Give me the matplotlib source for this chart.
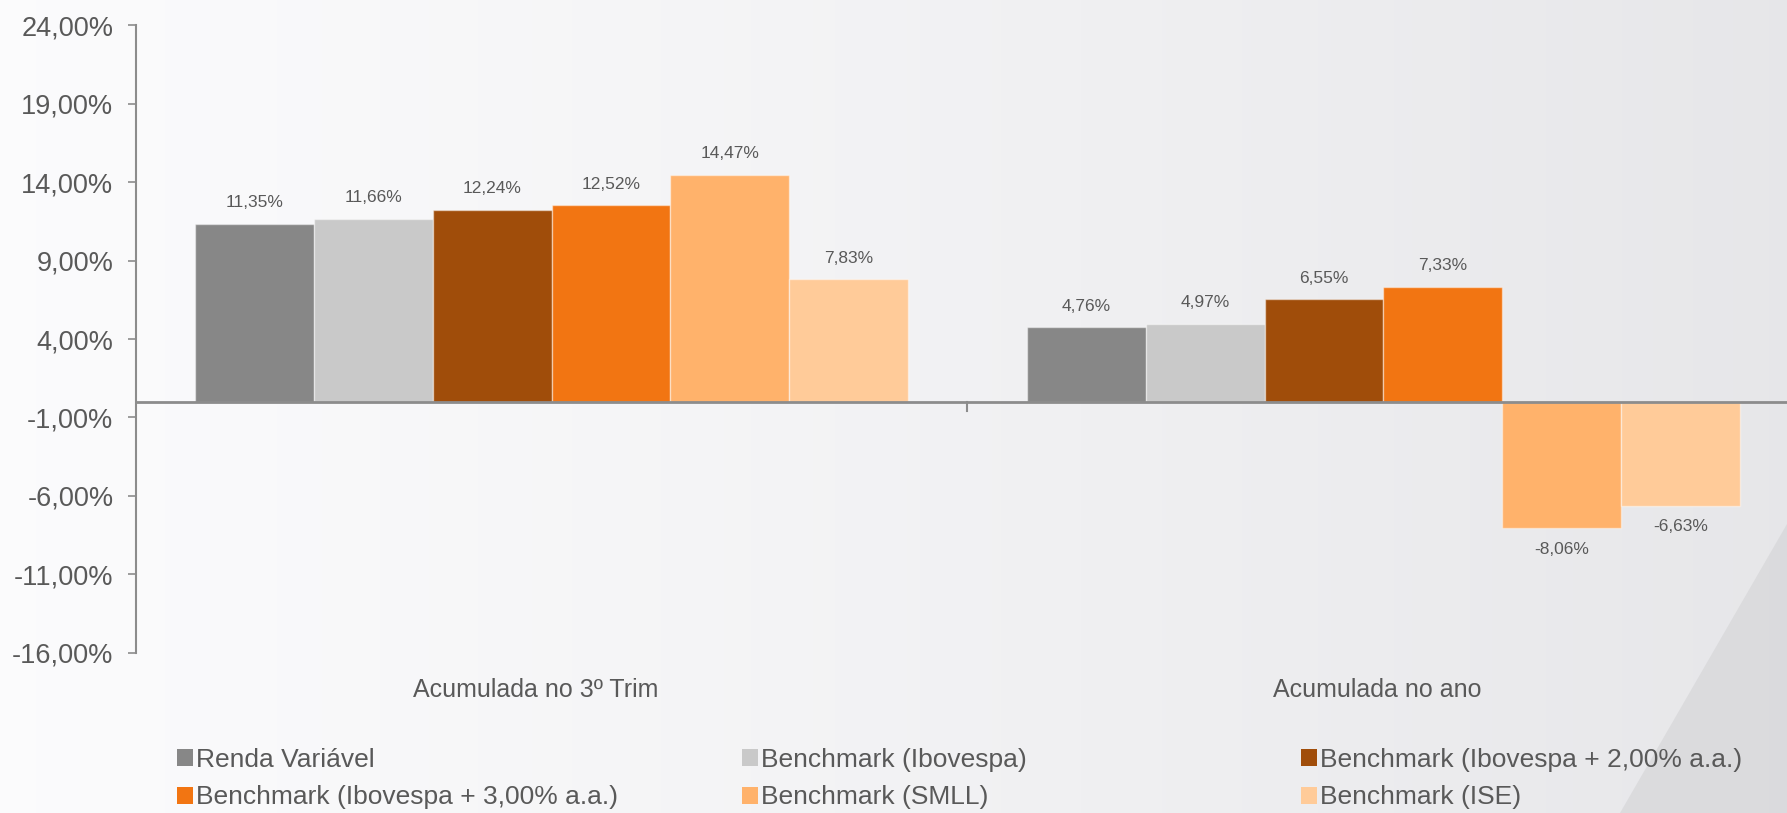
import numpy as np
import matplotlib
matplotlib.use("Agg")
import matplotlib.pyplot as plt
from matplotlib.patches import Polygon, Patch

plt.rcParams['font.family'] = ['Liberation Sans', 'DejaVu Sans']

# dados do grafico
categorias = ["Acumulada no 3º Trim", "Acumulada no ano"]
series = ["Renda Variável", "Benchmark (Ibovespa)", "Benchmark (Ibovespa + 2,00% a.a.)",
          "Benchmark (Ibovespa + 3,00% a.a.)", "Benchmark (SMLL)", "Benchmark (ISE)"]
renda_variavel = [11.35, 4.76]
ibovespa = [11.66, 4.97]
ibovespa_2 = [12.24, 6.55]
ibovespa_3 = [12.52, 7.33]
smll = [14.47, -8.06]
ise = [7.83, -6.63]
valores = [renda_variavel, ibovespa, ibovespa_2, ibovespa_3, smll, ise]
cores = ["#878787", "#C9C9C9", "#A04D0A", "#F27512", "#FFB26B", "#FFCB99"]
yticks = [24, 19, 14, 9, 4, -1, -6, -11, -16]

texto = "#595959"
eixo = "#8C8C8C"

fig = plt.figure(figsize=(17.87, 8.13), dpi=100)

# fundo com degrade
bg = fig.add_axes([0, 0, 1, 1], zorder=-10)
grad = np.linspace(0, 1, 400)
img = np.empty((2, 400, 3))
c0 = np.array([0.985, 0.985, 0.99])
c1 = np.array([0.905, 0.905, 0.915])
for k in range(3):
    img[:, :, k] = c0[k] + (c1[k] - c0[k]) * grad ** 1.2
bg.imshow(img, aspect='auto', extent=[0, 1, 0, 1], origin='lower')
bg.add_patch(Polygon([[1620 / 1787, 0], [1, 0], [1, 1 - 524 / 813]], closed=True,
                     facecolor="#D6D6D8", edgecolor='none', alpha=0.7))
bg.set_xlim(0, 1)
bg.set_ylim(0, 1)
bg.axis('off')

ax = fig.add_axes([0.0759, 0.197, 0.931, 0.772])
ax.patch.set_alpha(0)

n = len(series)
largura = 0.857 / n
x = np.arange(len(categorias))
for i, (nome, vals, cor) in enumerate(zip(series, valores, cores)):
    pos = x - 0.857 / 2 + largura * (i + 0.5)
    barras = ax.bar(pos, vals, largura, color=cor, edgecolor=(1, 1, 1, 0.45),
                    linewidth=1, label=nome, zorder=2)
    for b, v in zip(barras, vals):
        y = b.get_height() if v >= 0 else v
        ax.annotate(f"{v:.2f}%".replace('.', ','), (b.get_x() + b.get_width() / 2, y),
                    xytext=(0, 15 if v >= 0 else -15), textcoords='offset points',
                    ha='center', va='center', fontsize=12.5, color=texto)

ax.set_xlim(-0.5, 1.5)
ax.set_ylim(-16, 24)
ax.set_yticks(yticks)
ax.set_yticklabels([f"{t:.2f}%".replace('.', ',') for t in yticks], fontsize=19.5, color=texto)
ax.tick_params(axis='y', length=6, width=1.2, color=eixo, pad=10)
ax.set_xticks([])

for s in ['top', 'right', 'bottom']:
    ax.spines[s].set_visible(False)
ax.spines['left'].set_color(eixo)
ax.spines['left'].set_linewidth(1.5)
ax.axhline(0, color=eixo, linewidth=2, zorder=3)
# marca entre os grupos
ax.plot([0.5, 0.5], [0, -0.6], color=eixo, linewidth=1.5, clip_on=False)

desloc = [-0.019, -0.008]
for xi, d, cat in zip(x, desloc, categorias):
    ax.text(xi + d, -18.4, cat, ha='center', va='center', fontsize=18, color=texto)

# legenda em tres colunas
colunas = [[0, 3], [1, 4], [2, 5]]
xs = [0.099, 0.415, 0.728]
for xc, idx in zip(xs, colunas):
    hs = [Patch(facecolor=cores[j], edgecolor='none') for j in idx]
    leg = fig.legend(hs, [series[j] for j in idx], loc='upper left',
                     bbox_to_anchor=(xc, 0.080), frameon=False, fontsize=19,
                     handlelength=0.62, handleheight=0.62, handletextpad=0.12,
                     labelspacing=0.51, borderpad=0, borderaxespad=0)
    for t in leg.get_texts():
        t.set_color(texto)

fig.savefig("out.png", dpi=100)
